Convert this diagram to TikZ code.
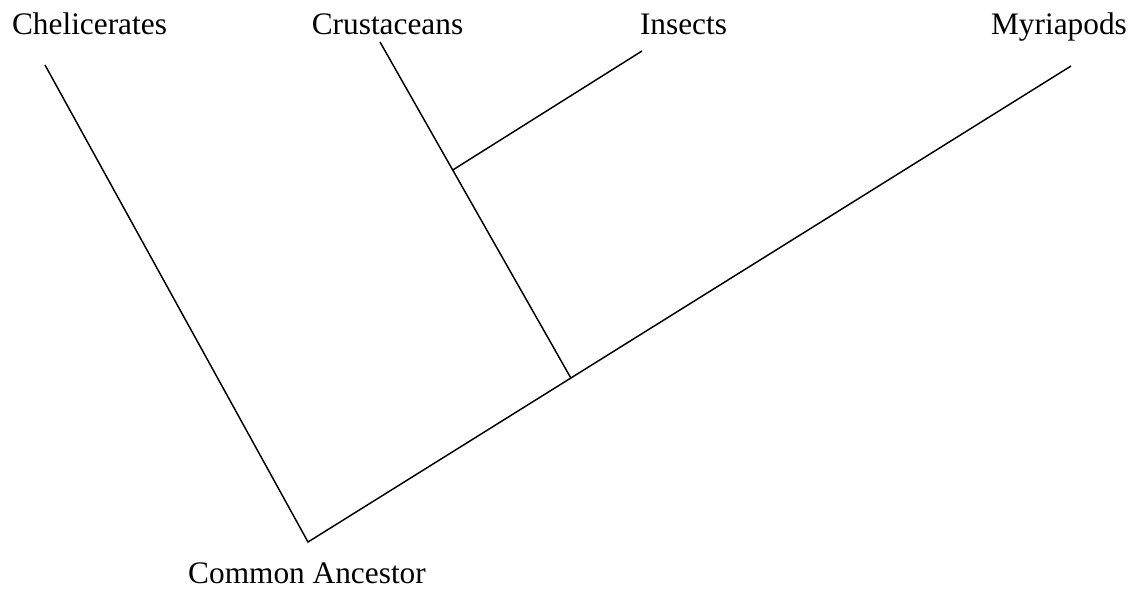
\documentclass[tikz,border=0pt]{standalone}
\usepackage{fontspec}
\setmainfont{Liberation Serif}
\usetikzlibrary{calc}
\begin{document}
\begin{tikzpicture}[x=0.75pt,y=-0.75pt,
    taxon/.style={anchor=base,inner sep=0pt,font=\fontsize{23.5}{28}\selectfont},
    branch/.style={line width=1.1pt}]
    \useasboundingbox (0,0) rectangle (1144,594);
    % labels
    \node[taxon] (chel) at (89.5,34) {Chelicerates};
    \node[taxon] (crus) at (387.5,34) {Crustaceans};
    \node[taxon] (ins) at (683.5,34) {Insects};
    \node[taxon] (myr) at (1059,34) {Myriapods};
    \node[taxon] (anc) at (307,583) {Common Ancestor};
    % branch ends
    \coordinate (chelend) at (45,65);
    \coordinate (crusend) at (380,42);
    \coordinate (insend) at (642,51);
    \coordinate (myrend) at (1071,66);
    \coordinate (root) at (308,542);
    \coordinate (split) at ($(root)!0.3445!(myrend)$);
    \coordinate (insplit) at ($(crusend)!0.381!(split)$);
    \draw[branch] (chelend) -- (root) -- (myrend);
    \draw[branch] (crusend) -- (split);
    \draw[branch] (insplit) -- (insend);
\end{tikzpicture}
\end{document}
